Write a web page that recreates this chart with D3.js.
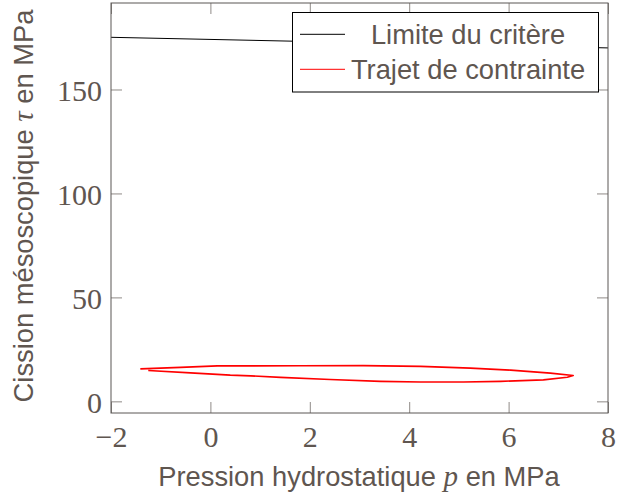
<!DOCTYPE html>
<html><head><meta charset="utf-8">
<script src="https://cdn.jsdelivr.net/npm/d3@7"></script>
<style>
body{margin:0;background:#fff;}
svg{display:block;}
</style></head>
<body>
<svg id="chart" width="625" height="497"></svg>
<script>
// ---- data ----
const xTicks = [-2, 0, 2, 4, 6, 8];
const yTicks = [0, 50, 100, 150];
const criterionP = [-2, 8];
const criterionTau = [175.1, 170.0];
const pathP = [-1.41, -0.60, 0.14, 0.81, 1.81, 3.08, 4.23, 5.23, 6.04, 6.84, 7.30,
               7.18, 6.70, 5.84, 5.09, 4.23, 3.42, 2.41, 1.41, 0.81, 0.40, -0.40, -1.25];
const pathTau = [15.6, 16.35, 17.07, 17.07, 17.16, 17.21, 16.83, 15.96, 15.0, 13.56, 12.45,
                 11.63, 10.34, 9.62, 9.28, 9.28, 9.62, 10.48, 11.54, 12.26, 12.6, 13.7, 14.81];
const legendLabels = ["Limite du critère", "Trajet de contrainte"];
const legendColors = ["#000000", "#ff0000"];
const xLabel = "Pression hydrostatique ";
const yLabel = "Cission mésoscopique ";

// ---- layout ----
const L = 111, R = 608, T = 3, B = 413;
const textColor = "#5f5650";
const svg = d3.select("#chart");
const x = d3.scaleLinear().domain([-2, 8]).range([L, R]);
const y = d3.scaleLinear().domain([-5.6, 191.6]).range([B, T]);

const serif = "'Liberation Serif', 'DejaVu Serif', serif";
const sans = "'Liberation Sans', Arial, sans-serif";

// criterion line
const crit = criterionP.map((p, i) => [p, criterionTau[i]]);
const line = d3.line().x(d => x(d[0])).y(d => y(d[1]));
svg.append("path").attr("d", line(crit)).attr("fill", "none")
  .attr("stroke", "#000").attr("stroke-width", 1);

// stress path
const loop = pathP.map((p, i) => [p, pathTau[i]]);
svg.append("path").attr("d", line(loop)).attr("fill", "none")
  .attr("stroke", "#ff0000").attr("stroke-width", 1.6).attr("stroke-linejoin", "round");

// axes
const tickLen = 11;
function styleAxis(g) {
  g.select(".domain").remove();
  g.selectAll(".tick line").attr("stroke", "#8f8a87").attr("stroke-width", 1);
  g.selectAll("text").attr("fill", textColor).attr("font-family", serif).attr("font-size", 30);
}
const gB = svg.append("g").attr("transform", `translate(0,${B})`)
  .call(d3.axisBottom(x).tickValues(xTicks).tickSize(-tickLen).tickFormat(d3.format("d")));
styleAxis(gB);
gB.selectAll("text").attr("dy", null).attr("y", 34);
const gT = svg.append("g").attr("transform", `translate(0,${T})`)
  .call(d3.axisTop(x).tickValues(xTicks).tickSize(-tickLen).tickFormat(""));
styleAxis(gT);
const gL = svg.append("g").attr("transform", `translate(${L},0)`)
  .call(d3.axisLeft(y).tickValues(yTicks).tickSize(-tickLen).tickFormat(d3.format("d")));
styleAxis(gL);
gL.selectAll("text").attr("dy", "0.36em").attr("x", -9);
const gR = svg.append("g").attr("transform", `translate(${R},0)`)
  .call(d3.axisRight(y).tickValues(yTicks).tickSize(-tickLen).tickFormat(""));
styleAxis(gR);

// frame
svg.append("rect").attr("x", L).attr("y", T).attr("width", R - L).attr("height", B - T)
  .attr("fill", "none").attr("stroke", "#5a5654").attr("stroke-width", 1);

// axis labels
const xl = svg.append("text").attr("x", (L + R) / 2 - 0.5).attr("y", 486)
  .attr("text-anchor", "middle").attr("fill", textColor)
  .attr("font-family", sans).attr("font-size", 27.3);
xl.append("tspan").text(xLabel);
xl.append("tspan").attr("font-family", serif).attr("font-style", "italic").attr("font-size", 29).text("p");
xl.append("tspan").text(" en MPa");

const yl = svg.append("text").attr("transform", "translate(33,206) rotate(-90)")
  .attr("text-anchor", "middle").attr("fill", textColor)
  .attr("font-family", sans).attr("font-size", 27.3);
yl.append("tspan").text(yLabel);
yl.append("tspan").attr("font-family", serif).attr("font-style", "italic").attr("font-size", 29).text("τ");
yl.append("tspan").text(" en MPa");

// legend
const lg = svg.append("g");
lg.append("rect").attr("x", 292.5).attr("y", 12.5).attr("width", 306).attr("height", 79.5)
  .attr("fill", "#fff").attr("stroke", "#000").attr("stroke-width", 1);
const legY = [34.3, 69.3];
legendLabels.forEach((lab, i) => {
  lg.append("line").attr("x1", 300).attr("x2", 345).attr("y1", legY[i]).attr("y2", legY[i])
    .attr("stroke", legendColors[i]).attr("stroke-width", 1);
  lg.append("text").attr("x", 468).attr("y", legY[i] + 9.5)
    .attr("text-anchor", "middle").attr("fill", textColor)
    .attr("font-family", sans).attr("font-size", 27.3).text(lab);
});
</script>
</body></html>
